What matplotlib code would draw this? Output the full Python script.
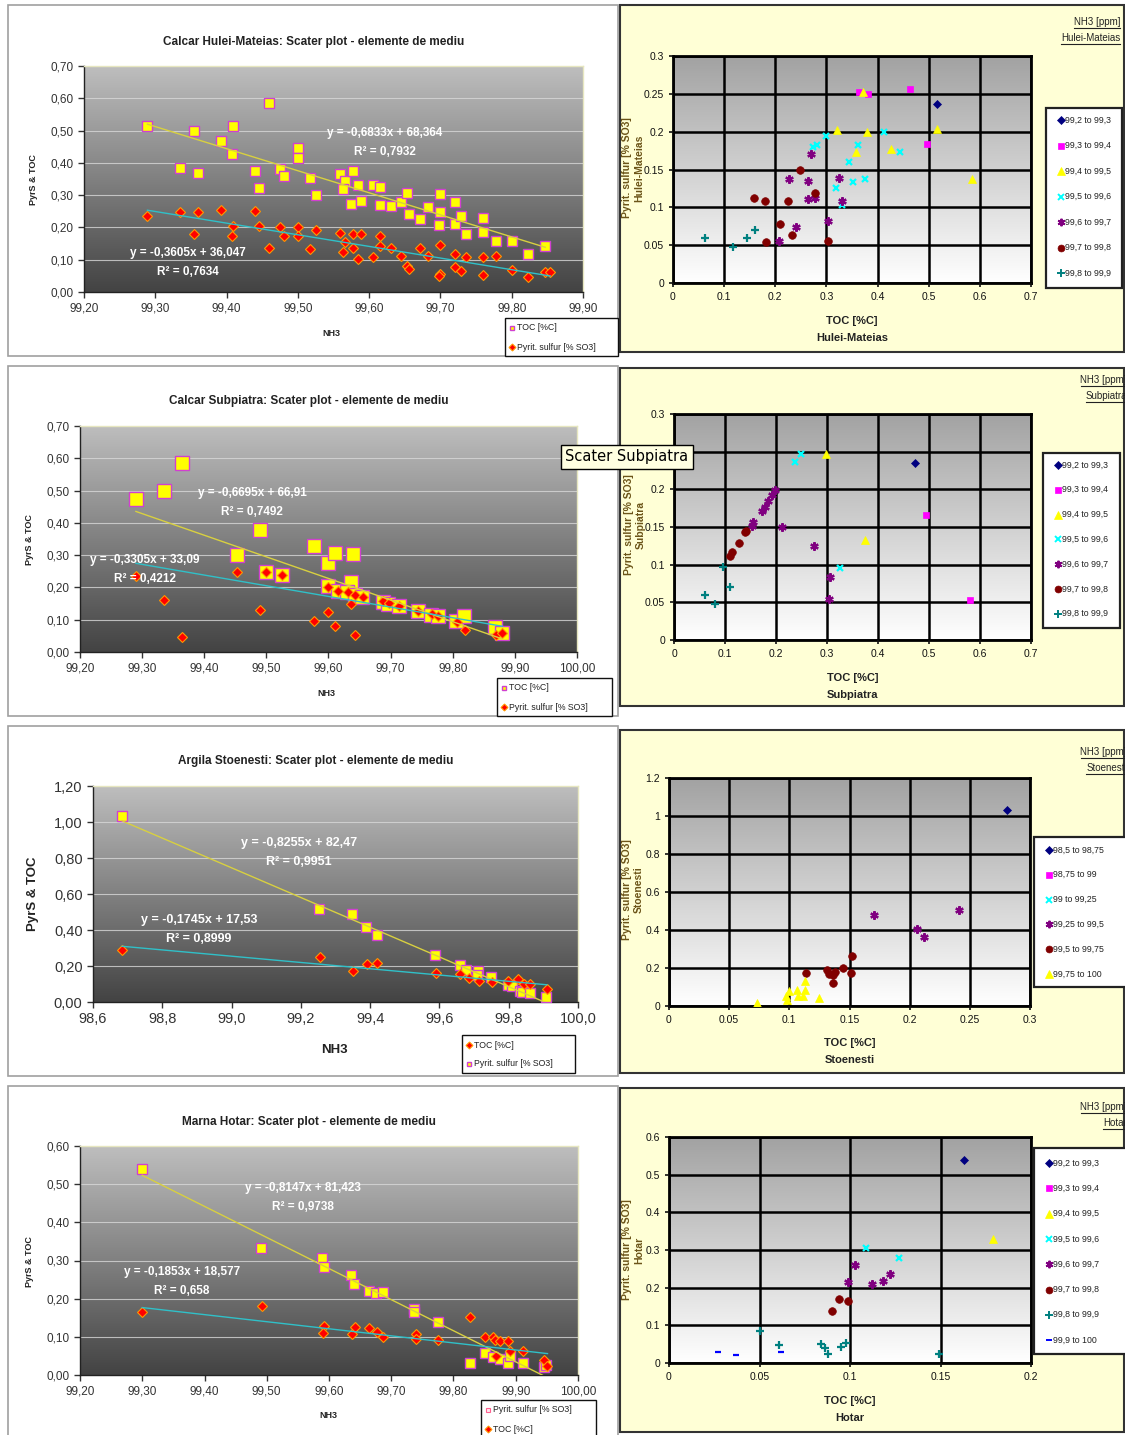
import matplotlib
matplotlib.use("Agg")
import numpy as np
import matplotlib.pyplot as plt
from matplotlib.patches import Rectangle
from matplotlib.lines import Line2D
from matplotlib.colors import LinearSegmentedColormap

plt.rcParams['font.family'] = ['Liberation Sans', 'DejaVu Sans']
NARROW = ['Liberation Sans Narrow', 'Liberation Sans', 'DejaVu Sans']

W, H = 1125, 1435

# ---------------- left panels: NH3 vs PyrS & TOC ----------------
# Calcar Hulei-Mateias
hm_toc_nh3 = [99.289, 99.335, 99.355, 99.36, 99.392, 99.409, 99.408, 99.44, 99.446, 99.46,
              99.475, 99.48, 99.50, 99.50, 99.517, 99.525, 99.559, 99.566, 99.563, 99.577,
              99.574, 99.585, 99.589, 99.605, 99.615, 99.615, 99.63, 99.644, 99.653, 99.656,
              99.671, 99.682, 99.70, 99.70, 99.698, 99.72, 99.72, 99.729, 99.736, 99.76,
              99.76, 99.778, 99.801, 99.823, 99.847]
hm_toc = [0.515, 0.385, 0.50, 0.37, 0.467, 0.515, 0.428, 0.374, 0.322, 0.585,
          0.381, 0.358, 0.445, 0.416, 0.354, 0.301, 0.365, 0.345, 0.319, 0.376,
          0.273, 0.33, 0.283, 0.33, 0.325, 0.27, 0.265, 0.278, 0.308, 0.241,
          0.226, 0.262, 0.303, 0.249, 0.206, 0.278, 0.211, 0.234, 0.179, 0.229,
          0.185, 0.159, 0.159, 0.118, 0.144]
hm_pyr_nh3 = [99.289, 99.335, 99.355, 99.36, 99.392, 99.409, 99.408, 99.44, 99.446, 99.46,
              99.475, 99.48, 99.50, 99.50, 99.517, 99.525, 99.559, 99.566, 99.563, 99.577,
              99.578, 99.585, 99.589, 99.605, 99.615, 99.615, 99.63, 99.644, 99.653, 99.656,
              99.671, 99.682, 99.70, 99.70, 99.698, 99.72, 99.72, 99.729, 99.736, 99.76,
              99.76, 99.778, 99.801, 99.823, 99.847, 99.854]
hm_pyr = [0.236, 0.248, 0.18, 0.249, 0.255, 0.203, 0.175, 0.252, 0.203, 0.136,
          0.20, 0.172, 0.20, 0.172, 0.134, 0.193, 0.182, 0.155, 0.124, 0.179,
          0.136, 0.103, 0.179, 0.107, 0.172, 0.141, 0.136, 0.112, 0.082, 0.072,
          0.136, 0.113, 0.146, 0.056, 0.05, 0.118, 0.076, 0.064, 0.107, 0.107,
          0.054, 0.11, 0.069, 0.048, 0.061, 0.061]
hm_fit_toc = (-0.6833, 68.364, 0.7932)
hm_fit_pyr = (-0.3605, 36.047, 0.7634)

# Calcar Subpiatra
sp_toc_nh3 = [99.29, 99.335, 99.364, 99.453, 99.489, 99.50, 99.525, 99.577, 99.60, 99.61,
              99.64, 99.637, 99.60, 99.616, 99.629, 99.643, 99.654, 99.687, 99.695, 99.714,
              99.744, 99.765, 99.777, 99.805, 99.818, 99.868, 99.879]
sp_toc = [0.474, 0.499, 0.585, 0.301, 0.378, 0.249, 0.237, 0.329, 0.277, 0.306,
          0.303, 0.216, 0.203, 0.19, 0.185, 0.177, 0.169, 0.155, 0.148, 0.144,
          0.128, 0.115, 0.11, 0.095, 0.11, 0.076, 0.059]
sp_pyr_nh3 = [99.29, 99.336, 99.364, 99.453, 99.489, 99.50, 99.525, 99.577, 99.60, 99.61,
              99.637, 99.642, 99.60, 99.616, 99.631, 99.643, 99.656, 99.687, 99.697, 99.714,
              99.744, 99.767, 99.777, 99.807, 99.82, 99.87, 99.88]
sp_pyr = [0.236, 0.162, 0.048, 0.247, 0.131, 0.247, 0.237, 0.095, 0.124, 0.082,
          0.148, 0.052, 0.20, 0.19, 0.185, 0.177, 0.17, 0.157, 0.151, 0.144,
          0.128, 0.118, 0.11, 0.093, 0.067, 0.052, 0.059]
sp_fit_toc = (-0.6695, 66.91, 0.7492)
sp_fit_pyr = (-0.3305, 33.09, 0.4212)

# Argila Stoenesti
st_sq_nh3 = [98.684, 99.251, 99.347, 99.388, 99.419, 99.587, 99.658, 99.677, 99.711, 99.709,
             99.748, 99.797, 99.81, 99.833, 99.838, 99.861, 99.907]
st_sq = [1.035, 0.516, 0.488, 0.414, 0.373, 0.263, 0.203, 0.179, 0.174, 0.152,
         0.137, 0.096, 0.091, 0.059, 0.054, 0.05, 0.026]
st_dm_nh3 = [98.684, 99.254, 99.35, 99.39, 99.421, 99.589, 99.658, 99.684, 99.714, 99.753,
             99.799, 99.828, 99.844, 99.861, 99.91]
st_dm = [0.287, 0.248, 0.17, 0.211, 0.216, 0.161, 0.155, 0.133, 0.118, 0.111,
         0.118, 0.129, 0.10, 0.10, 0.074]
st_fit_sq = (-0.8255, 82.47, 0.9951)
st_fit_dm = (-0.1745, 17.53, 0.8999)

# Marna Hotar
ho_sq_nh3 = [99.30, 99.49, 99.589, 99.592, 99.636, 99.64, 99.664, 99.676, 99.686, 99.737,
             99.737, 99.775, 99.826, 99.851, 99.863, 99.875, 99.887, 99.89, 99.911, 99.946, 99.949]
ho_sq = [0.541, 0.334, 0.306, 0.282, 0.262, 0.238, 0.221, 0.214, 0.218, 0.173,
         0.164, 0.14, 0.031, 0.057, 0.048, 0.042, 0.031, 0.051, 0.031, 0.022, 0.026]
ho_dm_nh3 = [99.30, 99.492, 99.592, 99.591, 99.637, 99.641, 99.665, 99.677, 99.687, 99.739,
             99.74, 99.775, 99.826, 99.851, 99.863, 99.866, 99.875, 99.887, 99.868, 99.89,
             99.911, 99.946, 99.951]
ho_dm = [0.164, 0.182, 0.129, 0.109, 0.107, 0.127, 0.122, 0.112, 0.099, 0.107,
         0.094, 0.092, 0.151, 0.10, 0.099, 0.092, 0.09, 0.089, 0.051, 0.064,
         0.064, 0.039, 0.024]
ho_fit_sq = (-0.8147, 81.423, 0.9738)
ho_fit_dm = (-0.1853, 18.577, 0.658)

# ---------------- right panels: TOC vs pyrite sulfur by NH3 class ----------------
groups_a = ["99,2 to 99,3", "99,3 to 99,4", "99,4 to 99,5", "99,5 to 99,6",
            "99,6 to 99,7", "99,7 to 99,8", "99,8 to 99,9"]
groups_st = ["98,5 to 98,75", "98,75 to 99", "99 to 99,25", "99,25 to 99,5",
             "99,5 to 99,75", "99,75 to 100"]
groups_ho = groups_a + ["99,9 to 100"]

hm_r_toc = [[0.516], [0.364, 0.382, 0.464, 0.496],
            [0.372, 0.321, 0.38, 0.516, 0.357, 0.426, 0.584],
            [0.273, 0.282, 0.30, 0.413, 0.362, 0.444, 0.344, 0.351, 0.375, 0.318, 0.33],
            [0.270, 0.226, 0.263, 0.324, 0.263, 0.278, 0.33, 0.304, 0.240, 0.208],
            [0.248, 0.159, 0.179, 0.225, 0.278, 0.209, 0.232, 0.181, 0.303],
            [0.062, 0.118, 0.144, 0.160]]
hm_r_pyr = [[0.236], [0.253, 0.250, 0.257, 0.184],
            [0.252, 0.202, 0.2, 0.203, 0.173, 0.177, 0.138],
            [0.18, 0.183, 0.194, 0.2, 0.183, 0.173, 0.16, 0.133, 0.138, 0.125, 0.103],
            [0.17, 0.138, 0.135, 0.139, 0.111, 0.112, 0.108, 0.082, 0.074, 0.055],
            [0.149, 0.112, 0.109, 0.109, 0.119, 0.078, 0.063, 0.054, 0.055],
            [0.06, 0.048, 0.059, 0.07]]

sp_r_toc = [[0.472], [0.495, 0.581], [0.298, 0.375], [0.249, 0.237, 0.326],
            [0.198, 0.192, 0.184, 0.179, 0.173, 0.155, 0.152, 0.212, 0.274, 0.305, 0.303],
            [0.141, 0.139, 0.127, 0.114, 0.109],
            [0.097, 0.110, 0.061, 0.080]]
sp_r_pyr = [[0.235], [0.166, 0.053], [0.247, 0.133], [0.247, 0.236, 0.095],
            [0.199, 0.192, 0.184, 0.177, 0.171, 0.156, 0.151, 0.15, 0.125, 0.083, 0.054],
            [0.145, 0.143, 0.129, 0.117, 0.112],
            [0.097, 0.07, 0.06, 0.048]]

st_r_toc = [[0.281], [], [], [0.170, 0.206, 0.212, 0.241],
            [0.114, 0.131, 0.133, 0.136, 0.138, 0.145, 0.151, 0.152, 0.136],
            [0.073, 0.097, 0.098, 0.10, 0.106, 0.107, 0.111, 0.113, 0.113, 0.125]]
st_r_pyr = [[1.031], [], [], [0.479, 0.403, 0.364, 0.503],
            [0.174, 0.188, 0.171, 0.123, 0.179, 0.20, 0.176, 0.262, 0.162],
            [0.018, 0.053, 0.03, 0.077, 0.083, 0.053, 0.053, 0.083, 0.13, 0.042]]

ho_r_toc = [[0.163], [], [0.179], [0.109, 0.127], [0.103, 0.099, 0.112, 0.118, 0.122],
            [0.094, 0.099, 0.090], [0.050, 0.061, 0.084, 0.086, 0.088, 0.095, 0.098, 0.149],
            [0.027, 0.037, 0.062]]
ho_r_pyr = [[0.538], [], [0.330], [0.304, 0.279], [0.261, 0.215, 0.211, 0.219, 0.237],
            [0.171, 0.165, 0.139], [0.084, 0.049, 0.05, 0.04, 0.024, 0.042, 0.053, 0.024],
            [0.029, 0.02, 0.029]]

# marker styles for the NH3 classes (marker, colour, size)
STYLES = [('D', '#000080', 4.5), ('s', '#FF00FF', 5), ('^', '#FFFF00', 6), ('x', '#00FFFF', 5),
          ((6, 2, 0), '#800080', 6), ('o', '#800000', 5.5), ('+', '#008080', 6), ('_', '#0000FF', 5)]

fig = plt.figure(figsize=(W / 100, H / 100), dpi=100)
fig.patch.set_facecolor('white')


def fx(x):
    return x / W


def fy(y):
    return 1 - y / H


def px_axes(x0, y0, x1, y1):
    return fig.add_axes([fx(x0), fy(y1), (x1 - x0) / W, (y1 - y0) / H])


def panel_box(x0, y0, x1, y1, face, edge, lw):
    fig.add_artist(Rectangle((fx(x0), fy(y1)), (x1 - x0) / W, (y1 - y0) / H,
                             transform=fig.transFigure, facecolor=face, edgecolor=edge,
                             lw=lw, zorder=-5))


def gradient(ax, top, bottom):
    cmap = LinearSegmentedColormap.from_list('g', [bottom, top])
    ax.imshow(np.linspace(0, 1, 256).reshape(-1, 1), extent=[0, 1, 0, 1],
              transform=ax.transAxes, origin='lower', cmap=cmap, aspect='auto', zorder=0)


def comma(v, d):
    return f"{v:.{d}f}".replace('.', ',')


SQ = dict(marker='s', mfc='#FFFF00', mec='#D040D0', mew=1.0)
DM = dict(marker='D', mfc='#FF0000', mec='#FF9900', mew=0.8)


def left_panel(box, axbox, title, title_y, xticks, xdec, yticks, series, fits, eqpos,
               xlabel_pos, ylabel_pos, leg_box, leg_items, big=False):
    panel_box(*box, 'white', '#a0a0a0', 1.2)
    ax = px_axes(*axbox)
    gradient(ax, '#bebebe', '#434343')
    for xs, ys, st, ms in series:
        ax.plot(xs, ys, ls='none', ms=ms, zorder=3, **st)
    for (a, b, r2), xs, col in fits:
        xl = np.array([min(xs), max(xs)])
        ax.plot(xl, a * xl + b, color=col, lw=1.0, zorder=4)
    ax.set_xlim(xticks[0], xticks[-1])
    ax.set_ylim(yticks[0], yticks[-1])
    ax.set_xticks(xticks)
    ax.set_xticklabels([comma(v, xdec) for v in xticks])
    ax.set_yticks(yticks)
    ax.set_yticklabels([comma(v, 2) for v in yticks])
    for v in yticks[1:-1]:
        ax.axhline(v, color='#d8d8d8', lw=0.8, alpha=0.8, zorder=1)
    tfs = 10.5 if big else 8.5
    ax.tick_params(labelsize=tfs, colors='#333333', length=4, width=1, direction='out')
    for s in ['left', 'bottom']:
        ax.spines[s].set_color('#222222')
        ax.spines[s].set_linewidth(1.0)
    for s in ['top', 'right']:
        ax.spines[s].set_color('#e6e6c0')
        ax.spines[s].set_linewidth(1.0)
    fig.text(fx((axbox[0] + axbox[2]) / 2 - 20), fy(title_y), title, ha='center', va='center',
             fontsize=8.5, fontweight='bold', color='#222222')
    lfs = 9.5 if big else 6.5
    fig.text(fx(xlabel_pos[0]), fy(xlabel_pos[1]), 'NH3', ha='center', va='center',
             fontsize=lfs, fontweight='bold', color='#222222')
    fig.text(fx(ylabel_pos[0]), fy(ylabel_pos[1]), 'PyrS & TOC', ha='center', va='center',
             rotation=90, fontsize=lfs, fontweight='bold', color='#222222')
    efs = 9 if big else 8.5
    for (a, b, r2), (ex, ey) in zip([f[0] for f in fits], eqpos):
        eq = f"y = {comma(a, 4)}x + {str(b).replace('.', ',')}"
        fig.text(fx(ex), fy(ey), eq, ha='center', va='center', fontsize=efs,
                 fontweight='bold', color='white', zorder=10)
        fig.text(fx(ex), fy(ey + 19), f"R² = {str(r2).replace('.', ',')}", ha='center',
                 va='center', fontsize=efs, fontweight='bold', color='white', zorder=10)
    # legend box
    lx0, ly0, lx1, ly1 = leg_box
    fig.add_artist(Rectangle((fx(lx0), fy(ly1)), (lx1 - lx0) / W, (ly1 - ly0) / H,
                             transform=fig.transFigure, facecolor='white',
                             edgecolor='#111111', lw=1.0, zorder=8))
    for i, (lab, st) in enumerate(leg_items):
        yy = ly0 + 10 + i * 19
        fig.add_artist(Line2D([fx(lx0 + 7)], [fy(yy)], transform=fig.transFigure, ls='none',
                              ms=3.5, zorder=9, **st))
        fig.text(fx(lx0 + 12), fy(yy), lab, ha='left', va='center', fontsize=6.3,
                 color='#222222', zorder=9)
    return ax


def right_panel(box, axbox, site, xticks, yticks, toc, pyr, labels, style_idx,
                head_y, head_x, xl_y, yl_x, yl_y, leg_box, leg_first, leg_step):
    panel_box(*box, '#FFFFD6', '#333333', 1.5)
    ax = px_axes(*axbox)
    gradient(ax, '#a2a2a2', '#ffffff')
    for xs, ys, si in zip(toc, pyr, style_idx):
        m, c, ms = STYLES[si]
        if xs:
            ax.plot(xs, ys, ls='none', marker=m, color=c, mfc=c, mec=c, ms=ms,
                    mew=1.6 if m in ('x', '+', '_', (6, 2, 0)) else 0.5, zorder=3)
    ax.set_xlim(xticks[0], xticks[-1])
    ax.set_ylim(yticks[0], yticks[-1])
    ax.set_xticks(xticks)
    ax.set_xticklabels([f"{v:g}" for v in xticks])
    ax.set_yticks(yticks)
    ax.set_yticklabels([f"{v:g}" for v in yticks])
    ax.grid(True, color='black', lw=1.8, zorder=1)
    ax.set_axisbelow(False)
    for t in ax.get_xticklabels() + ax.get_yticklabels():
        t.set_family(NARROW)
    ax.tick_params(labelsize=7.5, length=3, width=1.2, direction='out', colors='#111111')
    for s in ax.spines.values():
        s.set_color('black')
        s.set_linewidth(2)
    for l in ax.get_xgridlines() + ax.get_ygridlines():
        l.set_zorder(1)
    cx = (axbox[0] + axbox[2]) / 2
    fig.text(fx(cx), fy(xl_y), 'TOC [%C]', ha='center', va='center', fontsize=8,
             fontweight='bold', family=NARROW, color='#222222')
    fig.text(fx(cx), fy(xl_y + 17), site, ha='center', va='center', fontsize=8,
             fontweight='bold', family=NARROW, color='#222222')
    fig.text(fx(yl_x), fy(yl_y), 'Pyrit. sulfur [% SO3]', ha='center', va='center',
             rotation=90, fontsize=7.5, fontweight='bold', family=NARROW, color='#6b5418')
    fig.text(fx(yl_x + 12), fy(yl_y), site, ha='center', va='center', rotation=90,
             fontsize=7.5, fontweight='bold', family=NARROW, color='#6b5418')
    heads = []
    for i, txt in enumerate(['NH3 [ppm]', site]):
        heads.append(fig.text(fx(head_x), fy(head_y + 16 * i), txt, ha='right', va='center',
                              fontsize=7, family=NARROW, color='#222222'))
    lx0, ly0, lx1, ly1 = leg_box
    fig.add_artist(Rectangle((fx(lx0), fy(ly1)), (lx1 - lx0) / W, (ly1 - ly0) / H,
                             transform=fig.transFigure, facecolor='white',
                             edgecolor='#222222', lw=1.6, zorder=8))
    for i, (lab, si) in enumerate(zip(labels, style_idx)):
        m, c, ms = STYLES[si]
        yy = leg_first + i * leg_step
        fig.add_artist(Line2D([fx(lx0 + 15)], [fy(yy)], transform=fig.transFigure, ls='none',
                              marker=m, color=c, mfc=c, mec=c, ms=ms * 0.9,
                              mew=1.4 if m in ('x', '+', '_', (6, 2, 0)) else 0.5, zorder=9))
        fig.text(fx(lx0 + 19), fy(yy), lab, ha='left', va='center', fontsize=6.3,
                 family=NARROW, color='#222222', zorder=9)
    return heads


# ---- row 1
left_panel((8, 5, 618, 356), (84, 66, 583, 292),
           'Calcar Hulei-Mateias: Scater plot - elemente de mediu', 42,
           [99.2, 99.3, 99.4, 99.5, 99.6, 99.7, 99.8, 99.9], 2,
           [0.0, 0.1, 0.2, 0.3, 0.4, 0.5, 0.6, 0.7],
           [(hm_toc_nh3, hm_toc, SQ, 6.5), (hm_pyr_nh3, hm_pyr, DM, 5)],
           [(hm_fit_toc, hm_toc_nh3, '#d8d040'), (hm_fit_pyr, hm_pyr_nh3, '#30c0c8')],
           [(385, 133), (188, 253)], (331, 334), (33, 180),
           (505, 318, 618, 356),
           [('TOC [%C]', SQ), ('Pyrit. sulfur [% SO3]', DM)])
h1 = right_panel((620, 5, 1124, 352), (673, 56, 1031, 283), 'Hulei-Mateias',
                 [0, 0.1, 0.2, 0.3, 0.4, 0.5, 0.6, 0.7], [0, 0.05, 0.1, 0.15, 0.2, 0.25, 0.3],
                 hm_r_toc, hm_r_pyr, groups_a, [0, 1, 2, 3, 4, 5, 6],
                 22, 1120, 321, 627, 168, (1046, 108, 1122, 288), 120, 25.5)

# ---- row 2
left_panel((8, 366, 618, 716), (80, 426, 577, 652),
           'Calcar Subpiatra: Scater plot - elemente de mediu', 401,
           [99.2, 99.3, 99.4, 99.5, 99.6, 99.7, 99.8, 99.9, 100.0], 2,
           [0.0, 0.1, 0.2, 0.3, 0.4, 0.5, 0.6, 0.7],
           [(sp_toc_nh3, sp_toc, SQ, 9.5), (sp_pyr_nh3, sp_pyr, DM, 5)],
           [(sp_fit_toc, sp_toc_nh3, '#d8d040'), (sp_fit_pyr, sp_pyr_nh3, '#30c0c8')],
           [(252, 493), (145, 560)], (326, 694), (30, 540),
           (497, 678, 612, 716),
           [('TOC [%C]', SQ), ('Pyrit. sulfur [% SO3]', DM)])
h2 = right_panel((620, 368, 1124, 706), (674, 414, 1031, 640), 'Subpiatra',
                 [0, 0.1, 0.2, 0.3, 0.4, 0.5, 0.6, 0.7], [0, 0.05, 0.1, 0.15, 0.2, 0.25, 0.3],
                 sp_r_toc, sp_r_pyr, groups_a, [0, 1, 2, 3, 4, 5, 6],
                 380, 1127, 678, 629, 525, (1043, 453, 1120, 628), 465, 24.8)

# ---- row 3
left_panel((8, 726, 618, 1076), (93, 786, 578, 1002),
           'Argila Stoenesti: Scater plot - elemente de mediu', 761,
           [98.6, 98.8, 99.0, 99.2, 99.4, 99.6, 99.8, 100.0], 1,
           [0.0, 0.2, 0.4, 0.6, 0.8, 1.0, 1.2],
           [(st_sq_nh3, st_sq, SQ, 7), (st_dm_nh3, st_dm, DM, 5.5)],
           [(st_fit_sq, st_sq_nh3, '#d8d040'), (st_fit_dm, st_dm_nh3, '#30c0c8')],
           [(299, 843), (199, 920)], (334, 1050), (33, 894),
           (462, 1035, 575, 1073),
           [('TOC [%C]', DM), ('Pyrit. sulfur [% SO3]', SQ)], big=True)
h3 = right_panel((620, 730, 1124, 1073), (669, 778, 1030, 1006), 'Stoenesti',
                 [0, 0.05, 0.1, 0.15, 0.2, 0.25, 0.3], [0, 0.2, 0.4, 0.6, 0.8, 1.0, 1.2],
                 st_r_toc, st_r_pyr, groups_st, [0, 1, 3, 4, 5, 2],
                 752, 1127, 1043, 627, 890, (1034, 837, 1130, 987), 850, 24.8)

# ---- row 4
left_panel((8, 1086, 618, 1436), (80, 1146, 578, 1375),
           'Marna Hotar: Scater plot - elemente de mediu', 1122,
           [99.2, 99.3, 99.4, 99.5, 99.6, 99.7, 99.8, 99.9, 100.0], 2,
           [0.0, 0.1, 0.2, 0.3, 0.4, 0.5, 0.6],
           [(ho_sq_nh3, ho_sq, SQ, 7), (ho_dm_nh3, ho_dm, DM, 5.5)],
           [(ho_fit_sq, ho_sq_nh3, '#d8d040'), (ho_fit_dm, ho_dm_nh3, '#30c0c8')],
           [(303, 1188), (182, 1272)], (328, 1416), (30, 1262),
           (481, 1400, 596, 1440),
           [('Pyrit. sulfur [% SO3]', dict(marker='s', mfc='#ffe8f0', mec='#ff6090', mew=0.8)),
            ('TOC [%C]', DM)])
h4 = right_panel((620, 1088, 1124, 1432), (669, 1137, 1031, 1363), 'Hotar',
                 [0, 0.05, 0.1, 0.15, 0.2], [0, 0.1, 0.2, 0.3, 0.4, 0.5, 0.6],
                 ho_r_toc, ho_r_pyr, groups_ho, [0, 1, 2, 3, 4, 5, 6, 7],
                 1107, 1127, 1401, 627, 1250, (1034, 1148, 1130, 1354), 1163, 25.3)

# tooltip-like label over the two Subpiatra panels
fig.text(fx(627), fy(457), 'Scater Subpiatra', ha='center', va='center', fontsize=10.5,
         family='DejaVu Sans', color='black', zorder=20,
         bbox=dict(boxstyle='square,pad=0.3', facecolor='#FFFFE1', edgecolor='black', lw=1))

# underline the header texts of the right panels
fig.canvas.draw()
renderer = fig.canvas.get_renderer()
inv = fig.transFigure.inverted()
for heads in (h1, h2, h3, h4):
    for t in heads:
        bb = t.get_window_extent(renderer)
        (x0, y0), (x1, y1) = inv.transform([(bb.x0, bb.y0), (bb.x1, bb.y1)])
        fig.add_artist(Line2D([x0, x1], [y0 - 0.001, y0 - 0.001], transform=fig.transFigure,
                              color='#222222', lw=0.8))

fig.savefig('out.png', dpi=100)
